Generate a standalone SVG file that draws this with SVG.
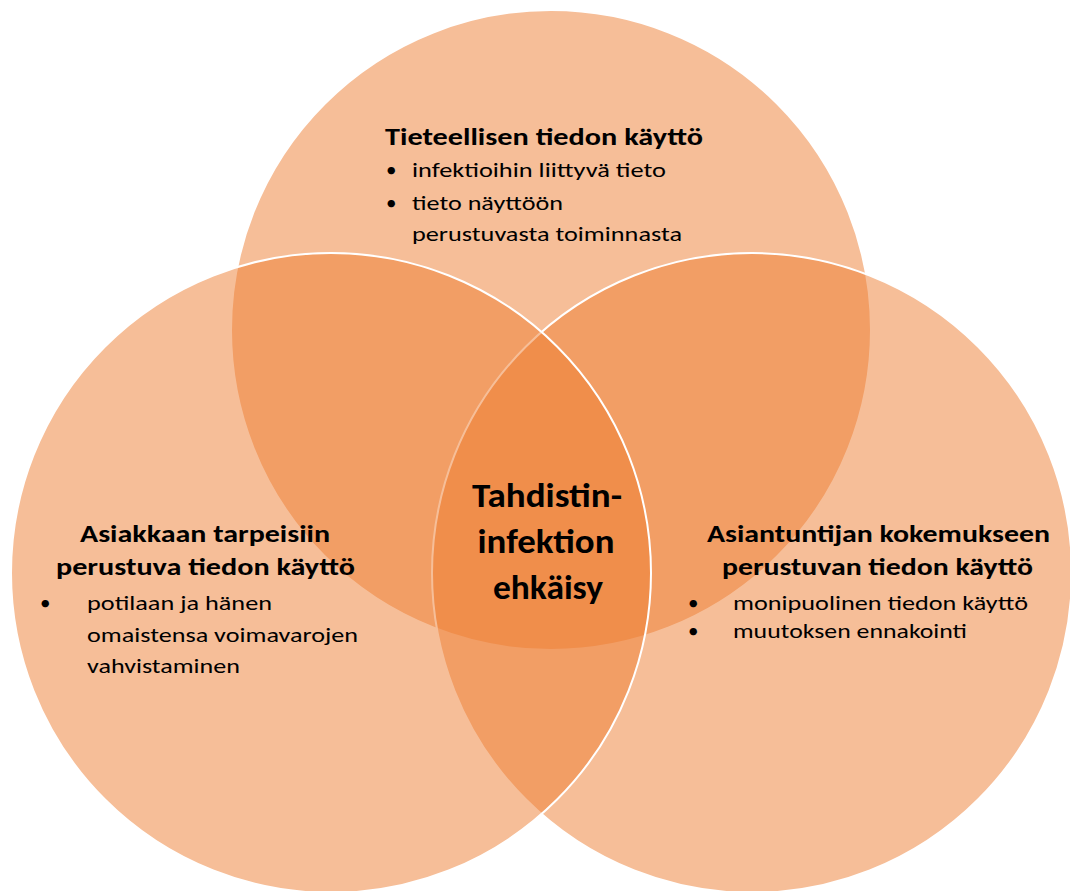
<svg xmlns="http://www.w3.org/2000/svg" width="1070" height="891" viewBox="0 0 1070 891">
  <style>
    .circ { fill: #ED7D31; fill-opacity: 0.5; stroke: #FFFFFF; stroke-width: 2; }
    text { font-family: Carlito, Lato, "Liberation Sans", sans-serif; fill: #000000; }
    .h { font-size: 23.5px; font-weight: bold; }
    .b { font-size: 21px; }
    .c { font-size: 35px; font-weight: bold; text-anchor: middle; }
  </style>
  <rect width="1070" height="891" fill="#FFFFFF"/>
  <g id="circle-top">
    <circle class="circ" cx="551" cy="330" r="320"/>
  </g>
  <g id="circle-right">
    <circle class="circ" cx="752" cy="573" r="320"/>
  </g>
  <g id="circle-left">
    <circle class="circ" cx="331" cy="573" r="320"/>
  </g>
  <g id="node-top">
    <text class="h" x="385" y="145" textLength="318" lengthAdjust="spacingAndGlyphs">Tieteellisen tiedon käyttö</text>
    <text class="b" x="386" y="177">•</text>
    <text class="b" x="412" y="177" textLength="254" lengthAdjust="spacingAndGlyphs">infektioihin liittyvä tieto</text>
    <text class="b" x="386" y="210">•</text>
    <text class="b" x="412" y="210" textLength="151" lengthAdjust="spacingAndGlyphs">tieto näyttöön</text>
    <text class="b" x="412" y="241" textLength="270" lengthAdjust="spacingAndGlyphs">perustuvasta toiminnasta</text>
  </g>
  <g id="node-left">
    <text class="h" x="80" y="542" textLength="250" lengthAdjust="spacingAndGlyphs">Asiakkaan tarpeisiin</text>
    <text class="h" x="56" y="575" textLength="299" lengthAdjust="spacingAndGlyphs">perustuva tiedon käyttö</text>
    <text class="b" x="40" y="610">•</text>
    <text class="b" x="87" y="610" textLength="185" lengthAdjust="spacingAndGlyphs">potilaan ja hänen</text>
    <text class="b" x="87" y="642" textLength="271" lengthAdjust="spacingAndGlyphs">omaistensa voimavarojen</text>
    <text class="b" x="87" y="673" textLength="153" lengthAdjust="spacingAndGlyphs">vahvistaminen</text>
  </g>
  <g id="node-right">
    <text class="h" x="707" y="542" textLength="343" lengthAdjust="spacingAndGlyphs">Asiantuntijan kokemukseen</text>
    <text class="h" x="722" y="575" textLength="311" lengthAdjust="spacingAndGlyphs">perustuvan tiedon käyttö</text>
    <text class="b" x="688" y="610">•</text>
    <text class="b" x="733" y="610" textLength="295" lengthAdjust="spacingAndGlyphs">monipuolinen tiedon käyttö</text>
    <text class="b" x="688" y="638">•</text>
    <text class="b" x="733" y="638" textLength="234" lengthAdjust="spacingAndGlyphs">muutoksen ennakointi</text>
  </g>
  <g id="node-center">
    <text class="c" x="547" y="507" textLength="150" lengthAdjust="spacingAndGlyphs">Tahdistin-</text>
    <text class="c" x="546" y="553" textLength="137" lengthAdjust="spacingAndGlyphs">infektion</text>
    <text class="c" x="548" y="599" textLength="110" lengthAdjust="spacingAndGlyphs">ehkäisy</text>
  </g>
</svg>
